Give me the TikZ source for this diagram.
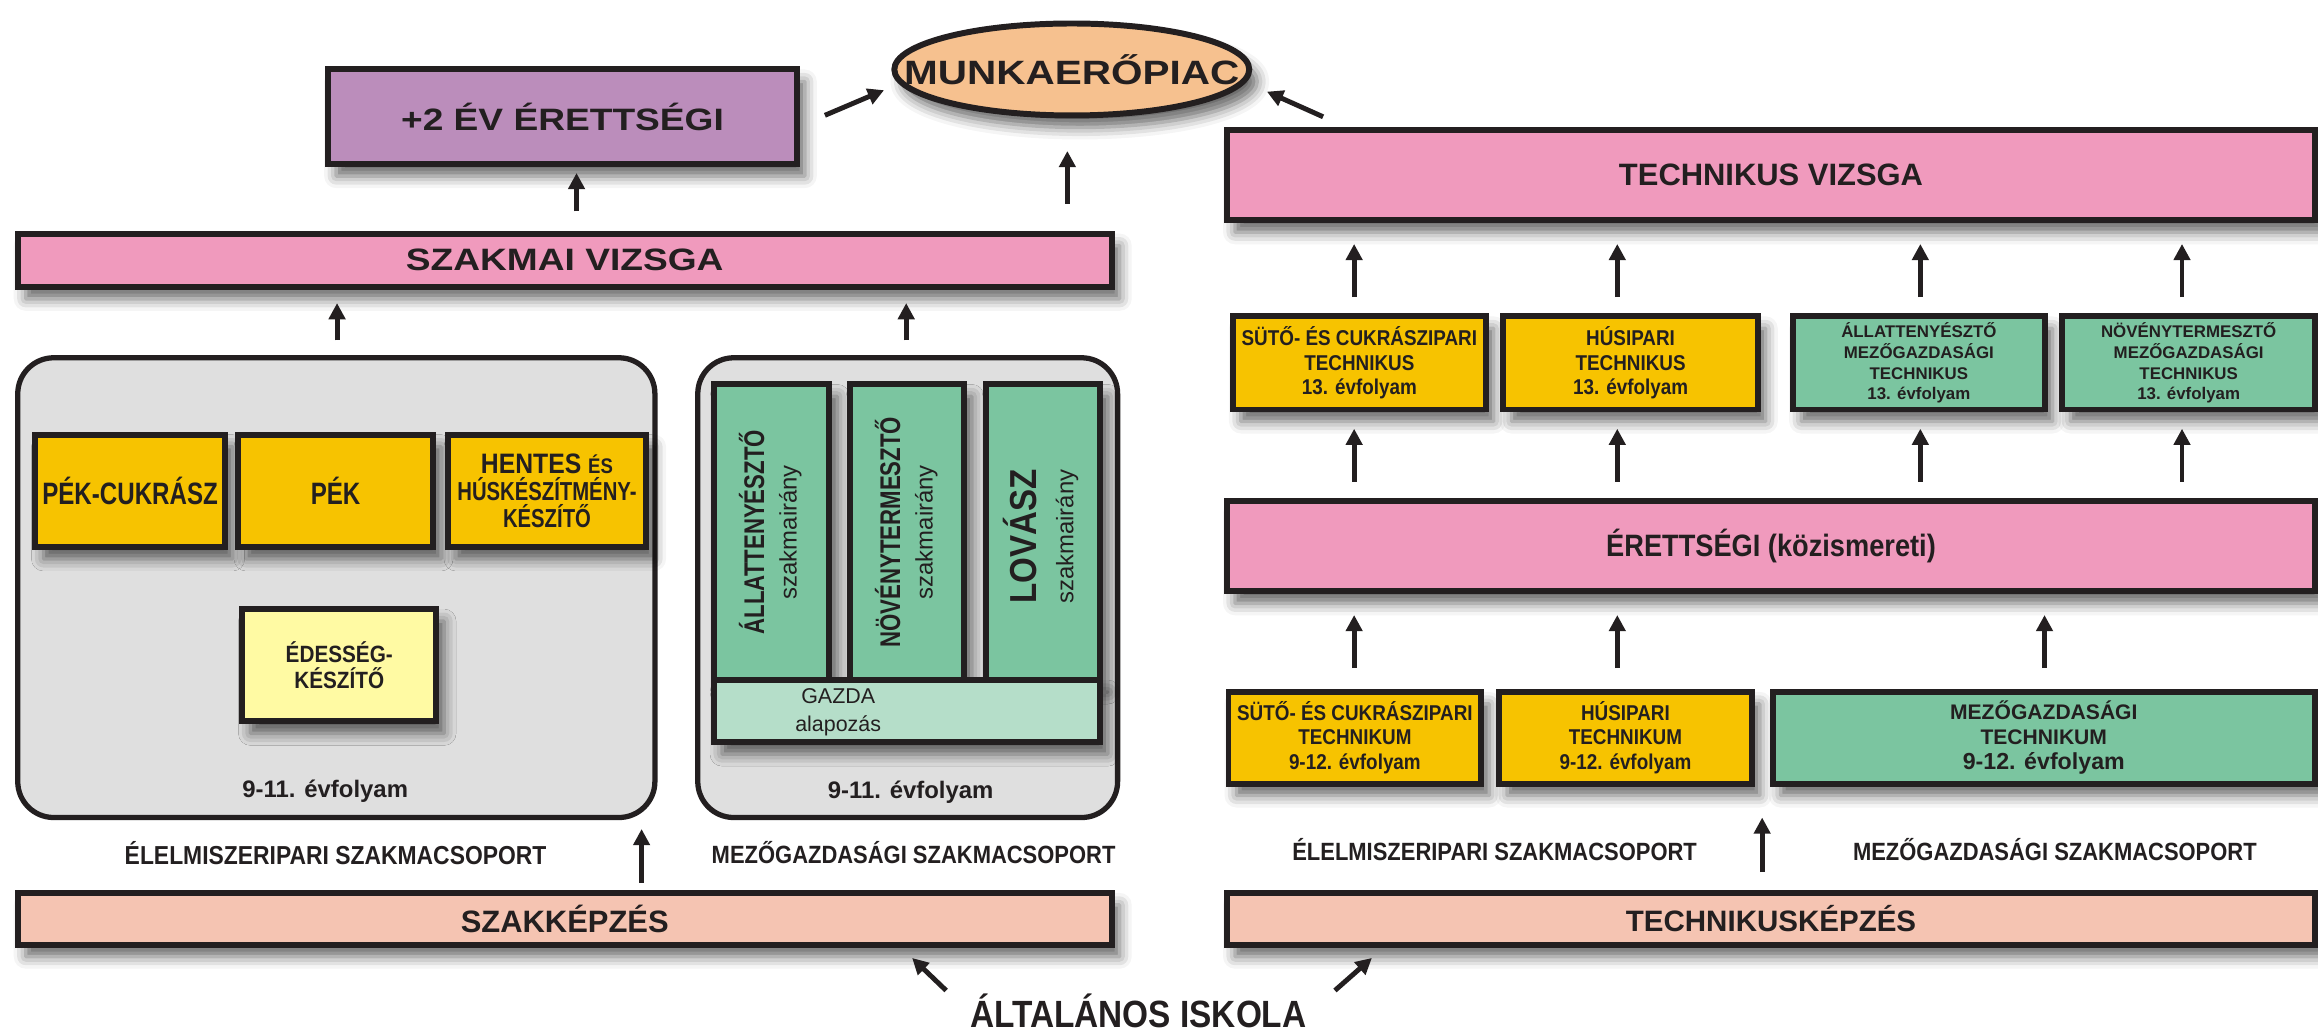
\documentclass[tikz,border=0pt]{standalone}
\usepackage{fontspec}
\setmainfont{Liberation Sans}
\newfontfamily\szeles{Liberation Sans}[FakeStretch=1.2]
\newfontfamily\keskeny{Liberation Sans}[FakeStretch=0.88]
\newfontfamily\szuk{Liberation Sans}[FakeStretch=0.78]
\usetikzlibrary{arrows.meta,shapes.geometric,fit,shadows.blur}

\definecolor{rozsaszin}{HTML}{F09ABD}
\definecolor{lila}{HTML}{BB8DBB}
\definecolor{barack}{HTML}{F6C18F}
\definecolor{narancs}{HTML}{F7C300}
\definecolor{halvsarga}{HTML}{FFFAA3}
\definecolor{zold}{HTML}{7BC5A0}
\definecolor{halvzold}{HTML}{B5DEC9}
\definecolor{szurke}{HTML}{DFDFDF}
\definecolor{lazac}{HTML}{F5C4B2}
\definecolor{sotet}{HTML}{231F20}

\begin{document}
\begin{tikzpicture}[x=0.01478cm,y=-0.01478cm,>={Triangle[length=4.6pt,width=4.6pt]},
	every node/.style={text=sotet,inner sep=0pt},
	arnyek/.style={blur shadow={shadow xshift=0.8mm,shadow yshift=-1.2mm,shadow blur radius=1.2mm,shadow opacity=60}},
	doboz/.style={draw=sotet,line width=1.7pt,arnyek},
	keret/.style={draw=sotet,line width=1.5pt,fill=szurke,rounded corners=0.36cm},
	nyil/.style={->,draw=sotet,line width=1.4pt}]

\def\px{0.01478cm}
\def\fs#1#2{\fontsize{#1}{#2}\selectfont}
\def\kartya#1#2#3#4#5{
	\node[doboz,fill=#2,fit={#3}] (#1) {};
	\node[align=center,font=#4] (#1f) at (#1) {#5};
}
\def\nyil#1#2#3#4{
	\draw[nyil,shorten <=#3*\px,shorten >=#4*\px] (#1) -- (#2);
}

\useasboundingbox (0,0) rectangle (1568,700);
\clip (0,0) rectangle (1568,700);

% munkaeropiac, vizsgak
\node[ellipse,draw=sotet,line width=1.7pt,fill=barack,arnyek,minimum width=3.55cm,minimum height=0.92cm] (munka) at (725,47) {};
\node[font=\szeles\bfseries\fs{9.6}{11}] (munkaf) at (munka) {MUNKAERŐPIAC};
\kartya{plusketto}{lila}{(222,47) (539,111)}{\szeles\bfseries\fs{8.8}{10}}{+2 ÉV ÉRETTSÉGI}

\kartya{szakmai}{rozsaszin}{(12,158) (752,194)}{\szeles\bfseries\fs{8.8}{10}}{SZAKMAI VIZSGA}
\kartya{technikusv}{rozsaszin}{(830,88) (1566,149)}{\bfseries\fs{8.8}{10}}{TECHNIKUS VIZSGA}
\kartya{erettsegi}{rozsaszin}{(830,339) (1566,400)}{\keskeny\bfseries\fs{8.8}{10}}{ÉRETTSÉGI (közismereti)}
\kartya{szakkepzes}{lazac}{(12,604) (752,639)}{\bfseries\fs{8.8}{10}}{SZAKKÉPZÉS}
\kartya{technikusk}{lazac}{(830,604) (1566,639)}{\bfseries\fs{8.4}{10}}{TECHNIKUSKÉPZÉS}

% szakkepzes
\node[keret,fit={(12,242) (443,553)}] (balkeret) {};
\node[keret,fit={(472,242) (756,553)}] (jobbkeret) {};

\kartya{pekcukrasz}{narancs}{(24,294) (152,370)}{\szuk\bfseries\fs{8.8}{10}}{PÉK-CUKRÁSZ}
\kartya{pek}{narancs}{(161,294) (293,370)}{\szuk\bfseries\fs{8.8}{10}}{PÉK}
\kartya{hentes}{narancs}{(303,294) (437,370)}{\szuk\bfseries\fs{7.4}{7.7}}
	{{\keskeny\fs{8}{7.7}HENTES \fs{6}{7.7}ÉS}\\HÚSKÉSZÍTMÉNY-\\KÉSZÍTŐ}
\kartya{edesseg}{halvsarga}{(164,412) (295,488)}{\keskeny\bfseries\fs{6.7}{7.4}}{ÉDESSÉG-\\KÉSZÍTŐ}
\node[font=\bfseries\fs{6.8}{8}] (evf1) at (220,535) {9-11. évfolyam};

\node[doboz,fill=zold,fit={(483,260) (561,460)}] (allat) {};
\node[doboz,fill=zold,fit={(575,260) (652,460)}] (noveny) {};
\node[doboz,fill=zold,fit={(667,260) (744,460)}] (lovasz) {};
\node[doboz,fill=halvzold,fit={(483,460) (744,502)}] (gazda) {};
\node[align=center,font=\fs{6.1}{8}] (gazdaf) at (567,482) {GAZDA\\alapozás};
\node[rotate=90,align=center,font=\szuk\bfseries\fs{8.1}{9.2}] (allatf) at (521,360)
	{ÁLLATTENYÉSZTŐ\\{\normalfont\fs{6.8}{9.2}szakmairány}};
\node[rotate=90,align=center,font=\szuk\bfseries\fs{8.1}{9.2}] (novenyf) at (613,360)
	{NÖVÉNYTERMESZTŐ\\{\normalfont\fs{6.8}{9.2}szakmairány}};
\node[rotate=90,align=center,font=\keskeny\bfseries\fs{10.7}{10.5}] (lovaszf) at (704,363)
	{LOVÁSZ\\{\normalfont\fs{6.8}{10.5}szakmairány}};
\node[font=\bfseries\fs{6.8}{8}] (evf2) at (616,536) {9-11. évfolyam};

\node[font=\keskeny\bfseries\fs{7.4}{8}] (elelm1) at (227,577) {ÉLELMISZERIPARI SZAKMACSOPORT};
\node[font=\keskeny\bfseries\fs{7.1}{8}] (mezo1) at (618,577) {MEZŐGAZDASÁGI SZAKMACSOPORT};

% technikuskepzes
\kartya{b1}{narancs}{(834,214) (1005,277)}{\keskeny\bfseries\fs{6.1}{6.9}}{SÜTŐ- ÉS CUKRÁSZIPARI\\TECHNIKUS\\13. évfolyam}
\kartya{b2}{narancs}{(1017,214) (1189,277)}{\keskeny\bfseries\fs{6.1}{6.9}}{HÚSIPARI\\TECHNIKUS\\13. évfolyam}
\kartya{b3}{zold}{(1213,214) (1383,277)}{\bfseries\fs{4.8}{5.9}}{ÁLLATTENYÉSZTŐ\\MEZŐGAZDASÁGI\\TECHNIKUS\\13. évfolyam}
\kartya{b4}{zold}{(1395,214) (1566,277)}{\bfseries\fs{4.8}{5.9}}{NÖVÉNYTERMESZTŐ\\MEZŐGAZDASÁGI\\TECHNIKUS\\13. évfolyam}

\kartya{c1}{narancs}{(831,468) (1002,530)}{\keskeny\bfseries\fs{6.1}{7}}{SÜTŐ- ÉS CUKRÁSZIPARI\\TECHNIKUM\\9-12. évfolyam}
\kartya{c2}{narancs}{(1014,468) (1185,530)}{\keskeny\bfseries\fs{6.1}{7}}{HÚSIPARI\\TECHNIKUM\\9-12. évfolyam}
\kartya{c3}{zold}{(1199,468) (1566,530)}{\bfseries\fs{6}{7.1}}{MEZŐGAZDASÁGI\\TECHNIKUM\\{\fs{6.6}{7.1}9-12. évfolyam}}

\node[font=\keskeny\bfseries\fs{7.1}{8}] (elelm2) at (1011,575) {ÉLELMISZERIPARI SZAKMACSOPORT};
\node[font=\keskeny\bfseries\fs{7.1}{8}] (mezo2) at (1390,575) {MEZŐGAZDASÁGI SZAKMACSOPORT};

\node[font=\keskeny\bfseries\fs{10.8}{12}] (altisk) at (770,684) {ÁLTALÁNOS ISKOLA};

% nyilak
\coordinate (n1) at (558,78); \coordinate (n2) at (598,61);
\coordinate (n3) at (895,79); \coordinate (n4) at (857,62);
\coordinate (n5) at (640,670); \coordinate (n6) at (617,648);
\coordinate (n7) at (903,670); \coordinate (n8) at (928,648);
\foreach \a/\b in {n1/n2,n3/n4,n5/n6,n7/n8}
	\draw[nyil] (\a) -- (\b);

\foreach \x/\a in {916/b1,1094/b2,1299/b3,1476/b4}{
	\nyil{\a.north -| \x,0}{technikusv.south -| \x,0}{11}{14}
	\nyil{erettsegi.north -| \x,0}{\a.south -| \x,0}{11}{11}
}
\foreach \x/\a in {916/c1,1094/c2,1383/c3}{
	\nyil{\a.north -| \x,0}{erettsegi.south -| \x,0}{14}{14}
}
\nyil{technikusk.north -| 1192,0}{c2.south -| 1192,0}{12}{21}

\nyil{szakkepzes.north -| 434,0}{balkeret.south -| 434,0}{5}{6}
\nyil{balkeret.north -| 228,0}{szakmai.south -| 228,0}{10}{9}
\nyil{jobbkeret.north -| 613,0}{szakmai.south -| 613,0}{10}{9}
\nyil{szakmai.north -| 390,0}{plusketto.south -| 390,0}{13}{4}
\nyil{szakmai.north -| 722,0}{munka.south -| 722,0}{18}{22}

\end{tikzpicture}
\end{document}
